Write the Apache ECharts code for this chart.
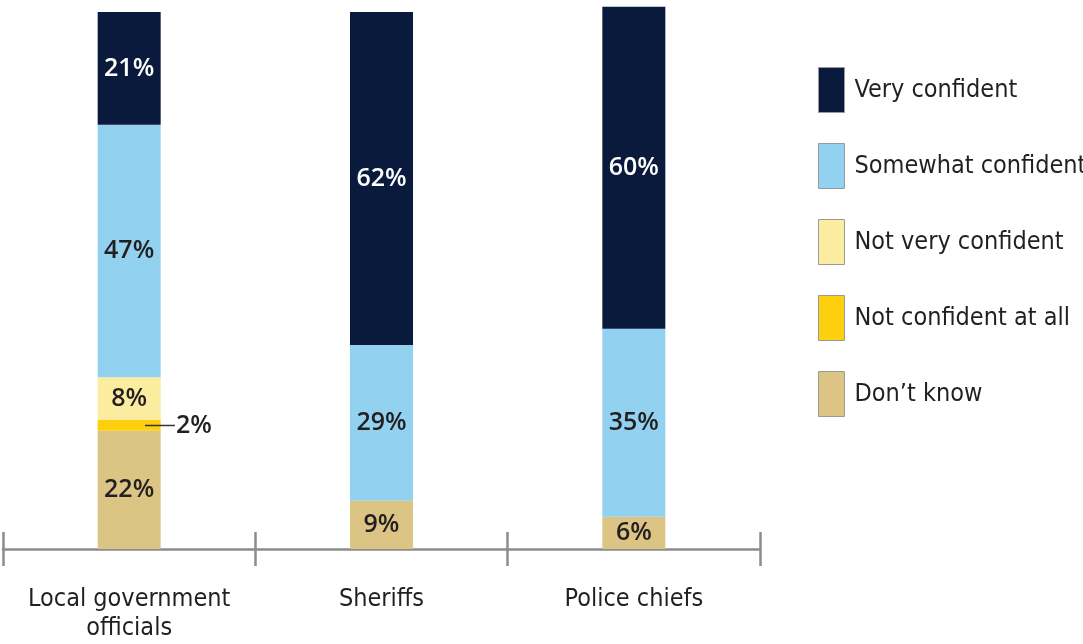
<!DOCTYPE html>
<html><head><meta charset="utf-8">
<script src="https://cdn.jsdelivr.net/npm/echarts@6/dist/echarts.min.js"></script>
<style>html,body{margin:0;padding:0;background:#fff}#c{width:1083px;height:644px}</style>
</head><body><div id="c"></div>
<script>
const categories = ['Local government\nofficials', 'Sheriffs', 'Police chiefs'];
const seriesNames = ['Don\u2019t know', 'Not confident at all', 'Not very confident', 'Somewhat confident', 'Very confident'];
const dontKnow = [22, 9, 6];
const notAtAll = [2, null, null];
const notVery = [8, null, null];
const somewhat = [47, 29, 35];
const very = [21, 62, 60];
const colors = ['#dcc485', '#fdd00f', '#fbeca0', '#92d2f0', '#0a1a3c'];
const legendOrder = ['Very confident', 'Somewhat confident', 'Not very confident', 'Not confident at all', 'Don\u2019t know'];

const condensed = '"Liberation Sans Narrow", "DejaVu Sans Condensed", sans-serif';
const labelFont = '"Open Sans", sans-serif';
const values = [dontKnow, notAtAll, notVery, somewhat, very];

const series = values.map((arr, i) => {
  const s = {
    name: seriesNames[i],
    type: 'bar',
    stack: 'all',
    barWidth: 63,
    clip: false,
    data: arr,
    itemStyle: { color: colors[i] },
    label: {
      show: true,
      position: 'inside',
      formatter: p => p.value == null ? '' : p.value + '%',
      fontFamily: labelFont,
      fontWeight: 600,
      fontSize: 25,
      color: i === 4 ? '#ffffff' : '#231f20'
    }
  };
  if (i === 1) {
    s.label = {
      show: true,
      position: ['75%', '50%'],
      align: 'left',
      verticalAlign: 'middle',
      formatter: p => p.value == null ? '' : '{ln|}{t|' + p.value + '%}',
      rich: {
        ln: { width: 30, height: 1.5, backgroundColor: '#333' },
        t: { fontFamily: labelFont, fontWeight: 600, fontSize: 25, color: '#231f20', padding: [0, 0, 0, 1] }
      }
    };
  }
  return s;
});

const chart = echarts.init(document.getElementById('c'));
chart.setOption({
  animation: false,
  backgroundColor: '#ffffff',
  grid: { left: 3, right: 323, top: 12, bottom: 95 },
  legend: {
    data: legendOrder,
    orient: 'vertical',
    left: 813,
    top: 62,
    itemWidth: 26,
    itemHeight: 45,
    itemGap: 30,
    icon: 'rect',
    itemStyle: { borderColor: '#9a9a9a', borderWidth: 1 },
    textStyle: { fontFamily: condensed, fontSize: 25, color: '#231f20', padding: [0, 0, 0, 5] },
    selectedMode: false
  },
  xAxis: [{
    type: 'category',
    data: categories,
    axisLine: { lineStyle: { color: '#8c8c8c', width: 2.5 } },
    axisTick: { show: true, length: 17, lineStyle: { color: '#8c8c8c', width: 2.5 } },
    axisLabel: { interval: 0, fontFamily: condensed, fontSize: 25, color: '#231f20', margin: 36, lineHeight: 29 }
  }, {
    type: 'category',
    data: categories,
    position: 'bottom',
    axisLine: { show: false },
    axisTick: { show: true, inside: true, length: 17, lineStyle: { color: '#8c8c8c', width: 2.5 } },
    axisLabel: { show: false }
  }],
  yAxis: {
    type: 'value', min: 0, max: 100,
    show: false,
    splitLine: { show: false }
  },
  series: series
});
</script></body></html>
